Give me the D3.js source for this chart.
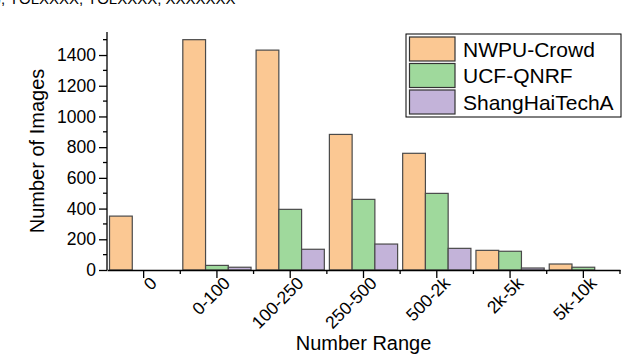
<!DOCTYPE html>
<html>
<head>
<meta charset="utf-8">
<script src="https://d3js.org/d3.v7.min.js"></script>
<style>
  body { margin: 0; background: #fff; }
  svg text { font-family: "Liberation Sans", Arial, Helvetica, sans-serif; fill: #000; }
</style>
</head>
<body>
<div id="chart"></div>
<script>
var categories = ["0", "0-100", "100-250", "250-500", "500-2k", "2k-5k", "5k-10k"];
var seriesNames = ["NWPU-Crowd", "UCF-QNRF", "ShangHaiTechA"];
var nwpu = [351, 1500, 1432, 883, 760, 128, 39];
var ucf = [0, 30, 395, 460, 499, 122, 18];
var shanghai = [0, 18, 135, 169, 141, 13, 0];
var yTicks = [0, 200, 400, 600, 800, 1000, 1200, 1400];
var colors = ["#fbc893", "#9fd99c", "#c3b3d9"];

var width = 640, height = 357;
var svg = d3.select("#chart").append("svg")
  .attr("width", width).attr("height", height);

// cropped caption line at the very top
svg.append("text")
  .attr("x", -4).attr("y", 4)
  .style("font-size", "15px")
  .text("), YOLXXXX, YOLXXXX, XXXXXXX");

var plotLeft = 107, plotRight = 620, plotTop = 32, plotBottom = 270;

var x = d3.scaleBand().domain(categories).range([plotLeft, plotRight]).padding(0);
var xInner = d3.scaleBand().domain(seriesNames).range([0, x.bandwidth()]).paddingInner(0).paddingOuter(0.111);
var y = d3.scaleLinear().domain([0, 1550]).range([plotBottom, plotTop]);

var data = categories.map(function(c, i) {
  return { cat: c, vals: [nwpu[i], ucf[i], shanghai[i]] };
});

var groups = svg.selectAll(".grp").data(data).enter().append("g")
  .attr("class", "grp")
  .attr("transform", function(d) { return "translate(" + x(d.cat) + ",0)"; });

groups.selectAll("rect")
  .data(function(d) { return d.vals.map(function(v, j) { return { s: seriesNames[j], v: v, j: j }; }); })
  .enter().filter(function(d) { return d.v > 0; })
  .append("rect")
  .attr("x", function(d) { return xInner(d.s); })
  .attr("width", xInner.bandwidth())
  .attr("y", function(d) { return y(d.v); })
  .attr("height", function(d) { return plotBottom - y(d.v); })
  .attr("fill", function(d) { return colors[d.j]; })
  .attr("stroke", "#4a4a4a")
  .attr("stroke-width", 1.2);

// y axis
var yAxis = svg.append("g").attr("transform", "translate(" + plotLeft + ",0)")
  .call(d3.axisLeft(y).tickValues(yTicks).tickFormat(d3.format("d")).tickSize(8).tickPadding(3).tickSizeOuter(0));
yAxis.select(".domain").attr("stroke", "#000").attr("stroke-width", 1.3).attr("d", "M0," + plotTop + "V" + plotBottom);
yAxis.selectAll(".tick line").attr("stroke", "#000").attr("stroke-width", 1.3);
yAxis.selectAll("text").style("font-size", "17.5px");
svg.append("g").attr("transform", "translate(" + plotLeft + ",0)")
  .selectAll("line").data(d3.range(100, 1600, 200)).enter().append("line")
  .attr("x1", -4).attr("x2", 0)
  .attr("y1", function(d) { return y(d); }).attr("y2", function(d) { return y(d); })
  .attr("stroke", "#000").attr("stroke-width", 1.3);

// x axis
var xAxis = svg.append("g").attr("transform", "translate(0," + plotBottom + ")")
  .call(d3.axisBottom(x).tickSize(8).tickSizeOuter(0));
xAxis.select(".domain").attr("stroke", "#000").attr("stroke-width", 1.3);
xAxis.selectAll(".tick line").attr("stroke", "#000").attr("stroke-width", 1.3);
xAxis.selectAll("text")
  .style("font-size", "17.5px")
  .attr("text-anchor", "end")
  .attr("dy", "0.35em")
  .attr("transform", "translate(10,10) rotate(-45)")
  .attr("x", 0).attr("y", 0);
svg.append("g").attr("transform", "translate(0," + plotBottom + ")")
  .selectAll("line").data(categories.slice(1).map(function(c) { return x(c); }).concat([plotRight])).enter().append("line")
  .attr("x1", function(d) { return d; }).attr("x2", function(d) { return d; })
  .attr("y1", 0).attr("y2", 4)
  .attr("stroke", "#000").attr("stroke-width", 1.3);

// axis titles
svg.append("text")
  .attr("x", (plotLeft + plotRight) / 2).attr("y", 350)
  .attr("text-anchor", "middle")
  .style("font-size", "20px")
  .text("Number Range");
svg.append("text")
  .attr("transform", "translate(44," + ((plotTop + plotBottom) / 2) + ") rotate(-90)")
  .attr("text-anchor", "middle")
  .style("font-size", "20px")
  .text("Number of Images");

// legend
var lg = svg.append("g").attr("transform", "translate(406,34)");
lg.append("rect").attr("width", 215).attr("height", 83)
  .attr("fill", "#fff").attr("stroke", "#000").attr("stroke-width", 1);
seriesNames.forEach(function(s, i) {
  lg.append("rect")
    .attr("x", 3.5).attr("y", 3 + i * 26.5)
    .attr("width", 45.5).attr("height", 24)
    .attr("fill", colors[i]).attr("stroke", "#333").attr("stroke-width", 1.2);
  lg.append("text")
    .attr("x", 57).attr("y", 15 + i * 26.5)
    .attr("dy", "0.36em")
    .style("font-size", "21px")
    .text(s);
});
</script>
</body>
</html>
